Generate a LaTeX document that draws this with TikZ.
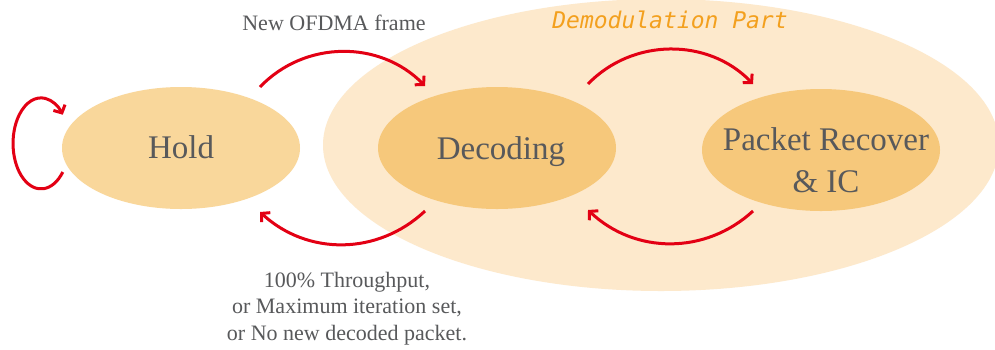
\documentclass[tikz,border=0pt]{standalone}
\usepackage{fontspec}
\setmainfont{Liberation Serif}
\newfontfamily\demofont{DejaVu Sans Mono}
\usetikzlibrary{shapes.geometric,arrows.meta,calc}
\definecolor{bigfill}{RGB}{253,233,204}
\definecolor{holdfill}{RGB}{249,215,155}
\definecolor{decfill}{RGB}{246,200,123}
\definecolor{arrred}{RGB}{227,0,20}
\definecolor{txtgray}{RGB}{88,89,91}
\definecolor{demoorange}{RGB}{243,160,30}
\tikzset{
  statebox/.style={ellipse, inner sep=0pt, minimum width=238pt, minimum height=122pt},
  statetxt/.style={text=txtgray, font=\fontsize{33}{42}\selectfont, align=center, inner sep=0pt, anchor=base},
  arr/.style={draw=arrred, line width=3pt, -{Straight Barb[length=6pt,width=13pt]}},
  smalltxt/.style={text=txtgray, font=\fontsize{22}{26.5}\selectfont, align=center, inner sep=0pt}
}
\begin{document}
\begin{tikzpicture}[x=1pt,y=-1pt]
\useasboundingbox (0,0) rectangle (995,349);
\clip (0,0) rectangle (995,349);
\fill[white] (0,0) rectangle (995,349);
\node[ellipse, fill=bigfill, inner sep=0pt, minimum width=676pt, minimum height=292pt] (demod) at (661,145) {};
\node[statebox, fill=holdfill] (hold) at (181,148) {};
\node[statebox, fill=decfill] (dec) at (497,148) {};
\node[statebox, fill=decfill] (pr) at (821,150) {};
\node[statetxt] (holdtxt) at (181,158) {Hold};
\node[statetxt] (dectxt) at (501,159) {Decoding};
\node[statetxt] (prtxt) at (826,192) {Packet Recover\\\& IC};
\node[text=demoorange, font=\demofont\itshape\fontsize{23}{28}\selectfont, anchor=base, inner sep=0pt] (demotitle) at (670,28) {Demodulation Part};
\node[smalltxt, anchor=base] (newframe) at (334,30) {New OFDMA frame};
\node[smalltxt, anchor=base] (cond) at (347,340) {100\% Throughput,\\or Maximum iteration set,\\or No new decoded packet.};
% arrows
\draw[arr] ($(hold.center)+(79,-61)$) to[bend left=46] ($(dec.center)+(-72,-62)$);
\draw[arr] ($(dec.center)+(91,-64)$) to[bend left=46] ($(pr.center)+(-68,-66)$);
\draw[arr] ($(dec.center)+(-72,63)$) to[bend left=43] ($(hold.center)+(79,64)$);
\draw[arr] ($(pr.center)+(-68,61)$) to[bend left=43] ($(dec.center)+(91,62)$);
\draw[arr] ($(hold.center)+(-118.2,24)$) arc[start angle=39, end angle=321, x radius=28, y radius=45.5];
\end{tikzpicture}
\end{document}
